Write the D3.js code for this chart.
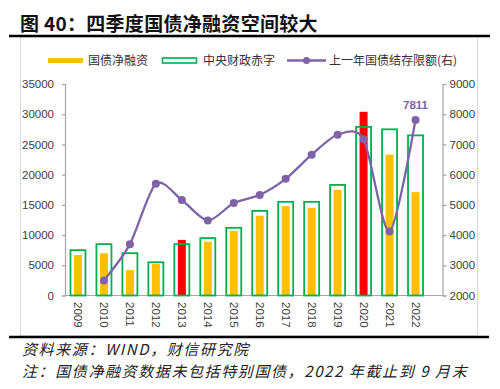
<!DOCTYPE html>
<html><head><meta charset="utf-8">
<script src="https://cdn.jsdelivr.net/npm/d3@7"></script>
<style>
html,body{margin:0;padding:0;background:#fff;}
svg{display:block;}
</style>
</head><body>
<svg id="c" width="500" height="389"></svg>
<script>
const years = ["2009","2010","2011","2012","2013","2014","2015","2016","2017","2018","2019","2020","2021","2022"];
const netFinancing = [6700,7000,4200,5200,9200,8900,10700,13200,14800,14500,17500,30400,23300,17100];
const deficit = [7500,8500,7000,5500,8500,9500,11200,14000,15500,15500,18300,27900,27500,26500];
const quota = [null,2500,3700,5700,5160,4480,5060,5330,5860,6660,7320,7170,4120,7811];
const highlightYears = ["2013","2020"];
const leftTicks = [0,5000,10000,15000,20000,25000,30000,35000];
const rightTicks = [2000,3000,4000,5000,6000,7000,8000,9000];
const title = "图 40：四季度国债净融资空间较大";
const legendLabels = ["国债净融资","中央财政赤字","上一年国债结存限额(右)"];
const notes = ["资料来源：WIND，财信研究院","注：国债净融资数据未包括特别国债，2022 年截止到 9 月末"];

const svg = d3.select("#c");
const cjk = "'Noto Sans CJK SC','Noto Sans',sans-serif";
const num = "'Liberation Sans',Arial,sans-serif";
const YELLOW="#FFC000", GREEN="#00B050", RED="#FF0000", PURPLE="#7F63A6", AX="#A6A6A6", TXT="#404040";

// title
svg.append("text").attr("x",20).attr("y",31).attr("font-family",cjk).attr("font-weight","bold")
  .attr("font-size",19).attr("fill","#111").attr("letter-spacing",0.3).text(title);
// frame
svg.append("rect").attr("x",20.5).attr("y",37).attr("width",457).attr("height",299)
  .attr("fill","none").attr("stroke","#D9D9D9").attr("stroke-width",1);
svg.append("line").attr("x1",9).attr("x2",490).attr("y1",36).attr("y2",36).attr("stroke","#000").attr("stroke-width",2.5);
svg.append("line").attr("x1",9).attr("x2",489).attr("y1",337).attr("y2",337).attr("stroke","#000").attr("stroke-width",2.5);

// scales
const x = d3.scaleBand().domain(years).range([65,428.5]).padding(0);
const yL = d3.scaleLinear().domain([0,35000]).range([295.5,84]);
const yR = d3.scaleLinear().domain([2000,9000]).range([295.5,84]);
const cx = d => x(d)+x.bandwidth()/2;

// axes
const gL = svg.append("g").attr("transform","translate(65,0)")
  .call(d3.axisLeft(yL).tickValues(leftTicks).tickSize(3).tickPadding(8).tickFormat(d3.format("d")));
const gR = svg.append("g").attr("transform","translate(442.5,0)")
  .call(d3.axisRight(yR).tickValues(rightTicks).tickSize(4).tickPadding(3).tickFormat(d3.format("d")));
[gL,gR].forEach(g=>{
  g.select(".domain").attr("stroke",AX).attr("stroke-width",1.2);
  g.selectAll(".tick line").attr("stroke",AX).attr("stroke-width",1.2);
  g.selectAll("text").attr("font-family",num).attr("font-size",11.5).attr("fill",TXT);
});
svg.append("line").attr("x1",65).attr("x2",442.5).attr("y1",295.5).attr("y2",295.5).attr("stroke",AX).attr("stroke-width",1.2);

// year labels (rotated)
svg.append("g").selectAll("text").data(years).join("text")
  .attr("transform",d=>`translate(${cx(d)-4},302) rotate(90)`)
  .attr("font-family",num).attr("font-size",11.5).attr("fill",TXT).attr("text-anchor","start")
  .text(d=>d);

// bars
const bw = 8, gw = 15;
svg.append("g").selectAll("rect").data(years).join("rect")
  .attr("x",d=>cx(d)-bw/2).attr("width",bw)
  .attr("y",(d,i)=>yL(netFinancing[i])).attr("height",(d,i)=>yL(0)-yL(netFinancing[i]))
  .attr("fill",d=>highlightYears.includes(d)?RED:YELLOW);
svg.append("g").selectAll("rect").data(years).join("rect")
  .attr("x",d=>cx(d)-gw/2).attr("width",gw)
  .attr("y",(d,i)=>yL(deficit[i])).attr("height",(d,i)=>yL(0)-yL(deficit[i]))
  .attr("fill","none").attr("stroke",GREEN).attr("stroke-width",1.8);

// line
const pts = years.map((d,i)=>({x:cx(d),y:quota[i]==null?null:yR(quota[i]),v:quota[i]})).filter(p=>p.v!=null);
const line = d3.line().x(p=>p.x).y(p=>p.y).curve(d3.curveCardinal.tension(0.2));
svg.append("path").attr("d",line(pts)).attr("fill","none").attr("stroke",PURPLE).attr("stroke-width",2.3);
svg.append("g").selectAll("circle").data(pts).join("circle")
  .attr("cx",p=>p.x).attr("cy",p=>p.y).attr("r",4).attr("fill",PURPLE);
const last = pts[pts.length-1];
svg.append("text").attr("x",last.x).attr("y",last.y-11).attr("text-anchor","middle")
  .attr("font-family",num).attr("font-weight","bold").attr("font-size",11.5).attr("fill",PURPLE)
  .text(d3.format("d")(last.v));

// legend
const lg = svg.append("g").attr("font-family",cjk).attr("font-size",12).attr("fill","#333");
lg.append("rect").attr("x",48).attr("y",58).attr("width",35).attr("height",5).attr("fill",YELLOW);
lg.append("text").attr("x",88).attr("y",65).text(legendLabels[0]);
lg.append("rect").attr("x",162.5).attr("y",58).attr("width",34).attr("height",5).attr("fill","none").attr("stroke",GREEN).attr("stroke-width",1.6);
lg.append("text").attr("x",203).attr("y",65).text(legendLabels[1]);
lg.append("line").attr("x1",287).attr("x2",326).attr("y1",60.5).attr("y2",60.5).attr("stroke",PURPLE).attr("stroke-width",2.3);
lg.append("circle").attr("cx",306.5).attr("cy",60.5).attr("r",3.5).attr("fill",PURPLE);
lg.append("text").attr("x",329).attr("y",65).text(legendLabels[2]);

// notes
svg.append("g").selectAll("text").data(notes).join("text")
  .attr("x",22).attr("y",(d,i)=>355+i*22)
  .attr("font-family",cjk).attr("font-style","italic").attr("font-size",15).attr("letter-spacing",1.6).attr("fill","#222")
  .text(d=>d);
</script>
</body></html>
